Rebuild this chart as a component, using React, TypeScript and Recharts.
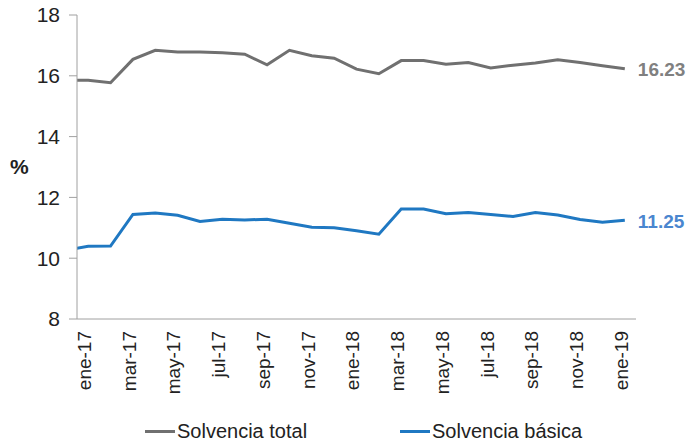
import React from 'react';
import { LineChart, Line, XAxis, YAxis, Legend, LabelList } from 'recharts';

// Months (first one only partly visible at the left edge of the plot)
const categories = [
  'dic-16', 'ene-17', 'feb-17', 'mar-17', 'abr-17', 'may-17', 'jun-17', 'jul-17', 'ago-17',
  'sep-17', 'oct-17', 'nov-17', 'dic-17', 'ene-18', 'feb-18', 'mar-18', 'abr-18', 'may-18',
  'jun-18', 'jul-18', 'ago-18', 'sep-18', 'oct-18', 'nov-18', 'dic-18', 'ene-19',
];

const solvenciaTotal = [
  15.85, 15.85, 15.77, 16.54, 16.84, 16.78, 16.78, 16.76, 16.71, 16.36, 16.84, 16.66, 16.58,
  16.22, 16.07, 16.5, 16.5, 16.38, 16.44, 16.26, 16.35, 16.42, 16.53, 16.44, 16.33, 16.23,
];

const solvenciaBasica = [
  10.27, 10.39, 10.4, 11.44, 11.49, 11.41, 11.21, 11.28, 11.26, 11.28, 11.15, 11.02, 11.0,
  10.9, 10.79, 11.62, 11.62, 11.46, 11.5, 11.44, 11.37, 11.5, 11.42, 11.27, 11.18, 11.25,
];

const yTicks = [8, 10, 12, 14, 16, 18];
const seriesNames = ['Solvencia total', 'Solvencia básica'];

const FONT = '"Liberation Sans", Arial, sans-serif';
const GRAY = '#707070';
const BLUE = '#1f78c2';
const GRAY_LABEL = '#808080';
const BLUE_LABEL = '#4a86cf';
const AXIS = '#a0a0a0';
const TEXT = '#222222';

// x value: index relative to first labelled month (ene-17 = 0)
const data = categories.map((c, i) => ({
  x: i - 1,
  month: c,
  total: solvenciaTotal[i],
  basica: solvenciaBasica[i],
}));

const lastX = categories.length - 2;
const domainX: [number, number] = [-0.5, lastX + 0.5];

// labelled months: ene-17, mar-17, ... ene-19
const labelTicks = data.filter((d) => d.x >= 0 && d.x % 2 === 0).map((d) => d.x);
// tick marks sit on category boundaries, before each labelled month
const boundaryTicks = labelTicks.map((v) => v - 0.5);

const XLabelTick = (props: any) => {
  const { x, y, payload } = props;
  const d = data.find((e) => e.x === payload.value);
  return (
    <text
      transform={`translate(${x - 4},${y + 7}) rotate(-90)`}
      textAnchor="end"
      dy="0.36em"
      fontSize={19}
      fill={TEXT}
      fontFamily={FONT}
    >
      {d ? d.month : ''}
    </text>
  );
};

const makeEndLabel = (color: string) => (props: any) => {
  const { x, y, value, index } = props;
  if (index !== data.length - 1) return null;
  return (
    <text
      x={x + 13}
      y={y + 1}
      dominantBaseline="central"
      fontSize={19}
      fontWeight="bold"
      fill={color}
      fontFamily={FONT}
    >
      {Number(value).toFixed(2)}
    </text>
  );
};

const legendLefts = [145, 400];

const renderLegend = (props: any) => {
  const payload = [...(props.payload || [])].sort(
    (a: any, b: any) => seriesNames.indexOf(a.value) - seriesNames.indexOf(b.value)
  );
  return (
    <div style={{ position: 'relative', width: 689, height: 30, fontFamily: FONT }}>
      {payload.map((p: any, i: number) => (
        <div
          key={p.value}
          style={{
            position: 'absolute',
            left: legendLefts[i],
            top: 0,
            height: 30,
            display: 'flex',
            alignItems: 'center',
            whiteSpace: 'nowrap',
          }}
        >
          <span
            style={{ display: 'inline-block', width: 30, height: 3, background: p.color, marginRight: 2 }}
          />
          <span style={{ fontSize: 20, color: TEXT }}>{p.value}</span>
        </div>
      ))}
    </div>
  );
};

export default function App() {
  return (
    <div style={{ position: 'absolute', left: 0, top: 0, width: 689, height: 443, background: '#fff' }}>
      <LineChart
        width={689}
        height={443}
        data={data}
        margin={{ top: 15, right: 53, left: 0, bottom: 14 }}
        style={{ fontFamily: FONT }}
      >
        <XAxis
          xAxisId="b"
          dataKey="x"
          type="number"
          domain={domainX}
          allowDataOverflow
          ticks={boundaryTicks}
          tick={false}
          tickLine={{ stroke: AXIS }}
          axisLine={{ stroke: AXIS }}
          tickSize={5}
          height={5}
          interval={0}
        />
        <XAxis
          xAxisId="c"
          dataKey="x"
          type="number"
          domain={domainX}
          allowDataOverflow
          ticks={labelTicks}
          tick={<XLabelTick />}
          tickLine={false}
          axisLine={false}
          tickSize={0}
          tickMargin={0}
          height={75}
          interval={0}
        />
        <YAxis
          type="number"
          domain={[8, 18]}
          ticks={yTicks}
          interval={0}
          width={77}
          tickSize={8}
          tickMargin={9}
          tickLine={{ stroke: AXIS }}
          axisLine={{ stroke: AXIS }}
          tick={{ fontSize: 21, fill: TEXT, fontFamily: FONT }}
          label={{
            value: '%',
            position: 'insideLeft',
            offset: 10,
            fontSize: 21,
            fontWeight: 'bold',
            fill: TEXT,
            fontFamily: FONT,
          }}
        />
        <Legend
          verticalAlign="bottom"
          content={renderLegend}
          itemSorter={null as any}
          wrapperStyle={{ top: 416, left: 0, width: 689, height: 30 }}
        />
        <Line
          xAxisId="b"
          type="linear"
          dataKey="total"
          name={seriesNames[0]}
          stroke={GRAY}
          strokeWidth={3}
          dot={false}
          activeDot={false}
          isAnimationActive={false}
        >
          <LabelList dataKey="total" content={makeEndLabel(GRAY_LABEL)} />
        </Line>
        <Line
          xAxisId="b"
          type="linear"
          dataKey="basica"
          name={seriesNames[1]}
          stroke={BLUE}
          strokeWidth={3}
          dot={false}
          activeDot={false}
          isAnimationActive={false}
        >
          <LabelList dataKey="basica" content={makeEndLabel(BLUE_LABEL)} />
        </Line>
      </LineChart>
    </div>
  );
}
